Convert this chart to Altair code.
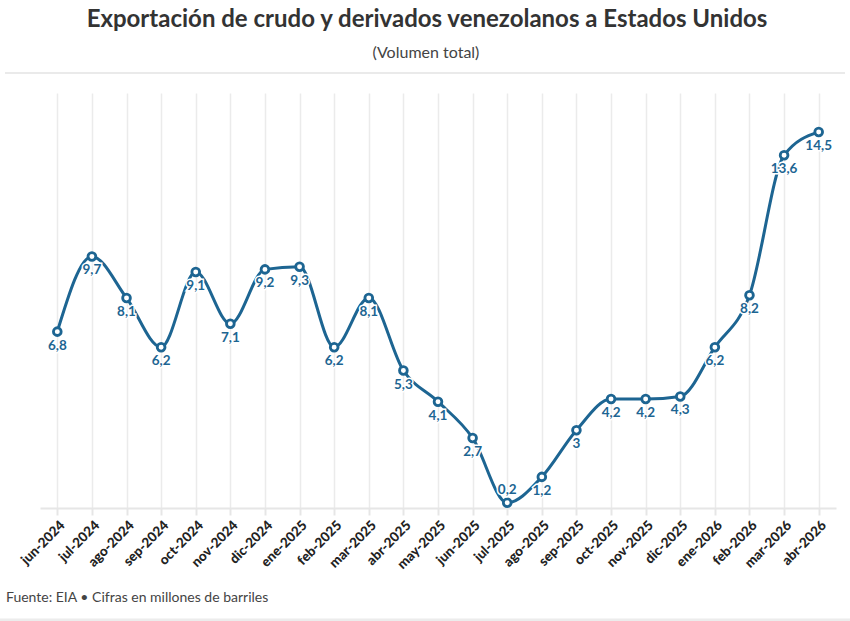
import altair as alt
import pandas as pd

months = ["jun-2024", "jul-2024", "ago-2024", "sep-2024", "oct-2024", "nov-2024",
          "dic-2024", "ene-2025", "feb-2025", "mar-2025", "abr-2025", "may-2025",
          "jun-2025", "jul-2025", "ago-2025", "sep-2025", "oct-2025", "nov-2025",
          "dic-2025", "ene-2026", "feb-2026", "mar-2026", "abr-2026"]
values = [6.8, 9.7, 8.1, 6.2, 9.1, 7.1, 9.2, 9.3, 6.2, 8.1, 5.3, 4.1,
          2.7, 0.2, 1.2, 3.0, 4.2, 4.2, 4.3, 6.2, 8.2, 13.6, 14.5]

TITLE = "Exportación de crudo y derivados venezolanos a Estados Unidos"
SUBTITLE = "(Volumen total)"
FOOTER = "Fuente: EIA • Cifras en millones de barriles"


def fmt(v):
    s = f"{v:.1f}".replace(".", ",")
    return s[:-2] if s.endswith(",0") else s


df = pd.DataFrame({"mes": months, "v": values, "lab": [fmt(v) for v in values]})

BLUE = "#1d6592"
FONT = "Lato"

x = alt.X("mes:O", sort=months, title=None,
          scale=alt.Scale(type="point", padding=0.5),
          axis=alt.Axis(labelAngle=-45, labelFont=FONT, labelFontSize=13.5,
                        labelFontWeight=900, labelColor="#222",
                        labelPadding=3, domainColor="#e6e6e6", domainWidth=2,
                        tickColor="#e6e6e6", tickWidth=2, tickSize=7,
                        grid=True, gridColor="#ebebeb", gridWidth=1.5))
y = alt.Y("v:Q", scale=alt.Scale(domain=[0, 16]), axis=None)

base = alt.Chart(df)

line = base.mark_line(interpolate="monotone", color=BLUE, strokeWidth=3).encode(x=x, y=y)
pts = base.mark_point(filled=True, fill="white", stroke=BLUE, strokeWidth=2.8,
                      size=60, opacity=1).encode(x=x, y=y)

below = base.transform_filter("datum.v >= 0.5")
above = base.transform_filter("datum.v < 0.5")

txt_kw = dict(font=FONT, fontSize=13.5, fontWeight="bold")
halo_b = below.mark_text(dy=14, color="white", stroke="white", strokeWidth=3, **txt_kw).encode(
    x=x, y=y, text="lab:N")
lab_b = below.mark_text(dy=14, color=BLUE, **txt_kw).encode(x=x, y=y, text="lab:N")
halo_a = above.mark_text(dy=-13, color="white", stroke="white", strokeWidth=3, **txt_kw).encode(
    x=x, y=y, text="lab:N")
lab_a = above.mark_text(dy=-13, color=BLUE, **txt_kw).encode(x=x, y=y, text="lab:N")

one = alt.Data(values=[{}])
title = alt.Chart(one).mark_text(font=FONT, fontSize=24, fontWeight="bold", color="#333",
                                 align="center", baseline="middle").encode(
    x=alt.value(387), y=alt.value(-73), text=alt.value(TITLE))
subtitle = alt.Chart(one).mark_text(font=FONT, fontSize=16, color="#444",
                                    align="center", baseline="middle").encode(
    x=alt.value(386), y=alt.value(-40), text=alt.value(SUBTITLE))
footer = alt.Chart(one).mark_text(font=FONT, fontSize=14, color="#444",
                                  align="left", baseline="middle").encode(
    x=alt.value(-34), y=alt.value(505), text=alt.value(FOOTER))
rule_top = alt.Chart(one).mark_rule(color="#e3e3e3", strokeWidth=1.5).encode(
    x=alt.value(-35), x2=alt.value(805), y=alt.value(-20))
rule_bot = alt.Chart(one).mark_rule(color="#ececec", strokeWidth=3).encode(
    x=alt.value(-40), x2=alt.value(810), y=alt.value(527))

chart = alt.layer(line, pts, halo_b, lab_b, halo_a, lab_a,
                  title, subtitle, footer, rule_top, rule_bot).properties(
    width=796, height=415,
    autosize=alt.AutoSizeParams(type="none"),
    padding={"left": 40, "top": 93, "right": 14, "bottom": 113},
).configure(background="white").configure_view(strokeWidth=0, stroke="transparent")

chart.save("out.html", embed_options={"renderer": "svg", "actions": False})
